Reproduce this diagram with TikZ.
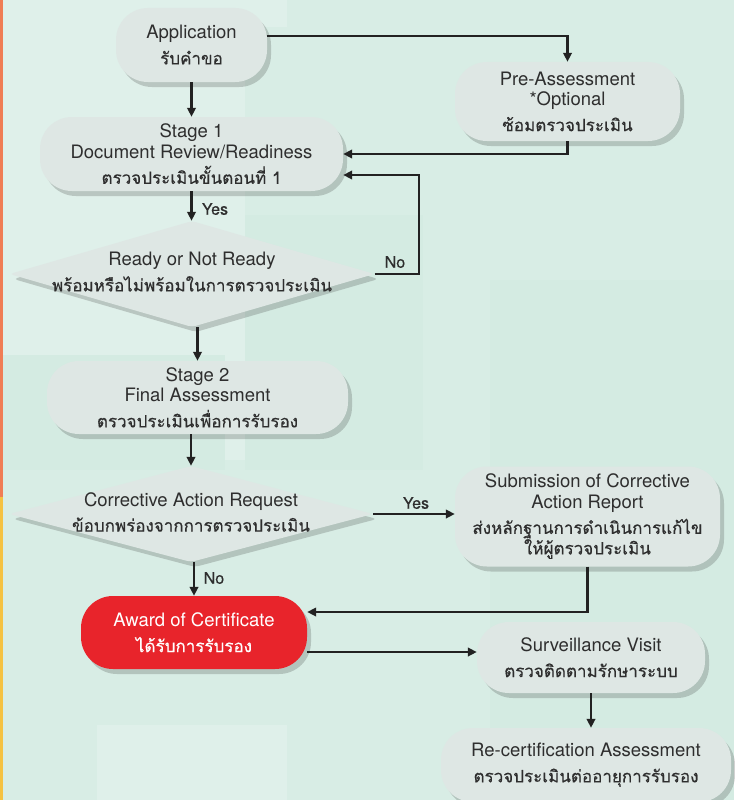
\documentclass[tikz,border=0pt]{standalone}
\usepackage{fontspec}
\setmainfont{TeX Gyre Heros}
\newfontfamily\thaifam[Script=Thai, FakeBold=0.5]{Loma}
\newcommand{\thai}{\thaifam\fontsize{17}{20.5}\selectfont}
\newfontfamily\lblfam[FakeBold=0.5]{TeX Gyre Heros}
\usetikzlibrary{shapes.geometric,shadows,arrows.meta}
\definecolor{bg}{HTML}{D8EDE5}
\definecolor{bglight}{HTML}{DFF0EA}
\definecolor{bgdark}{HTML}{D4EBE2}
\definecolor{boxfill}{HTML}{DEE7E4}
\definecolor{awardred}{HTML}{E8242B}
\definecolor{txt}{HTML}{2E2E2E}
\definecolor{linec}{HTML}{222222}
\definecolor{edgeorange}{HTML}{F07D55}
\definecolor{edgeyellow}{HTML}{F5C242}
\tikzset{
  x=1pt, y=-1pt,
  shad/.style={drop shadow={shadow xshift=4pt, shadow yshift=-5pt, opacity=0.22, fill=black!80}},
  box/.style={shad, fill=boxfill, rounded corners=32pt, inner sep=0pt, align=center,
    text=txt, font=\fontsize{18.5}{20.5}\selectfont},
  dia/.style={shad, shape=diamond, fill=boxfill, inner sep=0pt, rounded corners=4pt},
  dtext/.style={align=center, text=txt, inner sep=0pt, font=\fontsize{18.5}{20.5}\selectfont},
  conn/.style={draw=linec, line width=2.6pt, -{Triangle[length=9pt,width=8.5pt]}},
  lbl/.style={text=txt, inner sep=0pt, font=\lblfam\fontsize{16}{18}\selectfont},
}
\begin{document}
\begin{tikzpicture}
% background
\fill[bg] (0,0) rectangle (734,800);
\fill[bglight] (0,0) rectangle (245,460);
\fill[bglight] (96,0) rectangle (287,27);
\fill[bgdark] (245,215) rectangle (423,470);
\fill[bgdark] (0,355) rectangle (225,470);
\fill[bgdark] (490,280) rectangle (734,800);
\fill[bglight] (97,725) rectangle (287,800);
\useasboundingbox (0,0) rectangle (734,800);
\fill[edgeorange] (0,0) rectangle (2.5,497);
\fill[edgeyellow] (0,497) rectangle (2.5,800);

% nodes
\node[box, minimum width=151pt, minimum height=74pt] (app) at (191.5,45)
  {Application\\[5pt]\thai รับคำขอ};
\node[box, minimum width=225pt, minimum height=79pt] (pre) at (567.5,101.5)
  {Pre-Assessment\\*Optional\\[5pt]\thai ซ้อมตรวจประเมิน};
\node[box, minimum width=303pt, minimum height=74pt] (s1) at (191.5,154)
  {Stage 1\\Document Review/Readiness\\[5pt]\thai ตรวจประเมินขั้นตอนที่ 1};
\node[dia, minimum width=365pt, minimum height=106pt] (d1) at (192,274) {};
\node[dtext] (d1t) at (192,272) {Ready or Not Ready\\[5pt]\thai พร้อมหรือไม่พร้อมในการตรวจประเมิน};
\node[box, minimum width=301pt, minimum height=73pt] (s2) at (197.5,397.5)
  {Stage 2\\Final Assessment\\[5pt]\thai ตรวจประเมินเพื่อการรับรอง};
\node[dia, minimum width=364pt, minimum height=96pt] (d2) at (191,514) {};
\node[dtext] (d2t) at (191,512) {Corrective Action Request\\[5pt]\thai ข้อบกพร่องจากการตรวจประเมิน};
\node[box, minimum width=265pt, minimum height=100pt] (sub) at (587.5,516.5)
  {Submission of Corrective\\Action Report\\[5pt]\thai ส่งหลักฐานการดำเนินการแก้ไข\\\thai ให้ผู้ตรวจประเมิน};
\node[box, fill=awardred, text=white, minimum width=226pt, minimum height=73pt] (award) at (194,632.5)
  {Award of Certificate\\[5pt]\thai ได้รับการรับรอง};
\node[box, minimum width=228pt, minimum height=71pt] (surv) at (591,657.5)
  {Surveillance Visit\\[5pt]\thai ตรวจติดตามรักษาระบบ};
\node[box, minimum width=290pt, minimum height=74pt] (rec) at (586,765)
  {Re-certification Assessment\\[5pt]\thai ตรวจประเมินต่ออายุการรับรอง};

% labels
\node[lbl] (yes1) at (215,209) {Yes};
\node[lbl] (no1) at (395,262) {No};
\node[lbl] (yes2) at (416,503) {Yes};
\node[lbl] (no2) at (214,578) {No};

% connectors
\coordinate (appout) at ([yshift=9pt]app.east);
\coordinate (s1no) at ([yshift=-21pt]s1.east);
\coordinate (nox) at (419,175);
\coordinate (awin) at ([yshift=20.5pt]award.east);
\coordinate (awout) at ([yshift=-19.5pt]award.east);

\draw[conn] (app.south) -- (app.south |- s1.north);
\draw[conn] (appout) -| (pre.north);
\draw[conn] (pre.south) |- (s1.east);
\draw[conn] (s1.south) -- (s1.south |- d1.north);
\draw[conn] (d1.east) -| (nox) -- (s1no);
\draw[conn] (s2.north |- d1.south) -- (s2.north);
\draw[conn] (d2.north |- s2.south) -- (d2.north);
\draw[conn] (d2.east) -- (d2.east -| sub.west);
\draw[conn] (award.north |- d2.south) -- (award.north);
\draw[conn] (sub.south) |- (awin);
\draw[conn] (awout) -- (awout -| surv.west);
\draw[conn] (surv.south) -- (surv.south |- rec.north);
\end{tikzpicture}
\end{document}
